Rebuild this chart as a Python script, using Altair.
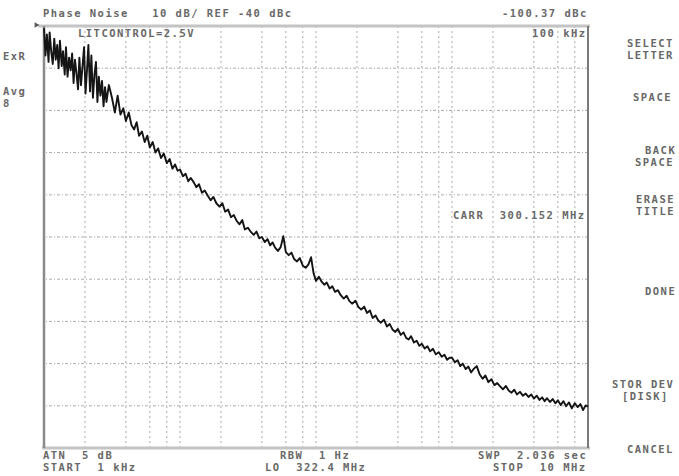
import altair as alt
import pandas as pd

# ---------------- data ----------------
DECADES_KHZ = [1, 10, 100, 1000]
MANTISSA = [1.0, 1.05, 1.1, 1.15, 1.2, 1.26, 1.32, 1.38, 1.45, 1.52, 1.6, 1.68, 1.76,
            1.85, 1.95, 2.05, 2.15, 2.26, 2.37, 2.49, 2.61, 2.74, 2.87, 3.0, 3.16, 3.32,
            3.48, 3.65, 3.83, 4.0, 4.2, 4.4, 4.6, 4.8, 5.0, 5.25, 5.5, 5.75, 6.0, 6.3,
            6.6, 6.9, 7.25, 7.6, 8.0, 8.4, 8.8, 9.2, 9.6]

# 1 kHz .. 3 kHz, denser sweep points (very noisy close-in region)
FREQ_LOW_KHZ = [1.0, 1.025, 1.05, 1.08, 1.1, 1.13, 1.16, 1.19, 1.22, 1.25, 1.28, 1.31,
                1.35, 1.38, 1.42, 1.45, 1.49, 1.53, 1.57, 1.61, 1.65, 1.69, 1.73, 1.78,
                1.82, 1.87, 1.92, 1.97, 2.02, 2.07, 2.12, 2.18, 2.23, 2.29, 2.35, 2.41,
                2.47, 2.53, 2.6, 2.67, 2.74, 2.81, 2.88, 2.95]
NOISE_LOW = [-40.5, -47, -42, -48.5, -41.5, -46, -49, -43, -48, -44.5, -50, -43.5,
             -49.5, -46, -51.5, -45, -52, -47.5, -50.5, -46.5, -53.5, -48, -51, -55,
             -47.5, -54, -49.5, -45, -56, -50.5, -44.5, -55.5, -47, -57, -51.5, -48.5,
             -58, -52, -56.5, -53, -59, -54.5, -58, -55.5]
# 3 kHz .. 10 kHz (MANTISSA from 3.0 on)
NOISE_3K = [-54, -57, -60.5, -56.5, -61, -59.5, -62.5, -60.5, -63.5, -64.5, -62.8, -66,
            -65, -67.5, -66, -68.8, -67.5, -70, -69, -71.3, -70.2, -72.5, -71.5, -73.8,
            -72.8, -74.3]
NOISE_10K = [-74, -75.6, -75, -76.8, -76, -77, -78.2, -77.5, -79.5, -79, -80.2, -81.3,
             -80.5, -82, -82.8, -82, -84, -83.5, -85.3, -84.8, -86.2, -87, -86, -88.2,
             -87.8, -88.8, -89.5, -88.7, -90.3, -90, -91.2, -90.5, -92, -91.3, -92.5,
             -93.3, -92.4, -89.8, -93.6, -94.3, -93.7, -95.2, -95.8, -95, -96.8, -97.3,
             -96.5, -94.8, -98.6]
NOISE_100K = [-100.4, -99.4, -100.6, -101.3, -100.8, -102.2, -101.7, -103, -102.6,
              -103.8, -104.6, -103.9, -105.2, -105.8, -105.1, -106.6, -107.2, -106.5,
              -108, -107.4, -109.2, -108.6, -109.8, -110.3, -109.6, -111.2, -110.6,
              -111.9, -112.5, -111.8, -113.2, -112.6, -113.9, -114.3, -113.5, -115,
              -114.6, -115.8, -115.3, -116.4, -115.9, -117.1, -116.5, -117.8, -117.3,
              -118.4, -117.9, -119.1, -118.6]
NOISE_1M = [-118.6, -119.7, -119.2, -120.6, -120, -121.3, -120.7, -122.1, -121.2,
            -120.6, -122.6, -123.6, -122.8, -124.4, -123.7, -125.1, -124.6, -125.4,
            -126.1, -125.3, -126.4, -126.9, -126.2, -127.3, -126.7, -127.6, -127.1,
            -127.9, -127.3, -128.3, -127.6, -128.6, -128, -128.9, -128.2, -129.1,
            -128.4, -129.4, -128.7, -129.8, -128.9, -130.1, -129.2, -130.6, -129.4,
            -130.3, -129.6, -131, -129.9]
STOP_KHZ = 10000
STOP_DBC = -130.2

GRID_F_KHZ = [2, 4, 6, 8, 10, 20, 40, 60, 80, 100, 200, 400, 600, 800, 1000,
              2000, 4000, 6000, 8000]
GRID_DBC = [-50, -60, -70, -80, -90, -100, -110, -120, -130]

# text labels
TOP_TITLE = "Phase Noise   10 dB/ REF -40 dBc"
MARKER_VAL = "-100.37 dBc"
MARKER_FREQ = "100 kHz"
TRACE_TITLE = "LITCONTROL=2.5V"
CARRIER = "CARR  300.152 MHz"
LEFT_LABELS = ["ExR", "Avg", "8"]
BOTTOM_LABELS = ["ATN  5 dB", "START  1 kHz", "RBW  1 Hz", "LO  322.4 MHz",
                 "SWP  2.036 sec", "STOP  10 MHz"]
SOFTKEYS = ["SELECT", "LETTER", "SPACE", "BACK", "SPACE", "ERASE", "TITLE", "DONE",
            "STOR DEV", "[DISK]", "CANCEL"]

# ---------------- build tables ----------------
freqs = list(FREQ_LOW_KHZ)
vals = list(NOISE_LOW)
for m, v in zip(MANTISSA[23:], NOISE_3K):
    freqs.append(m)
    vals.append(v)
for dec, series in zip(DECADES_KHZ[1:], [NOISE_10K, NOISE_100K, NOISE_1M]):
    for m, v in zip(MANTISSA, series):
        freqs.append(m * dec)
        vals.append(v)
freqs.append(STOP_KHZ)
vals.append(STOP_DBC)
trace = pd.DataFrame({"f": freqs, "dbc": vals, "i": range(len(freqs))})

W, H = 544, 422
L, T = 44, 26
CW = 7.8  # character pitch of the instrument font
xs = alt.Scale(type="log", domain=[1, 10000])
ys = alt.Scale(domain=[-140, -40])

# layout anchors (left x, centre y) for each text, in picture pixels
text_items = [
    (TOP_TITLE, 43, 14),
    (MARKER_VAL, 502, 14),
    (MARKER_FREQ, 532, 34),
    (TRACE_TITLE, 78, 34),
    (CARRIER, 453, 216),
    (LEFT_LABELS[0], 3, 57),
    (LEFT_LABELS[1], 3, 92),
    (LEFT_LABELS[2], 3, 104),
    (BOTTOM_LABELS[0], 43, 456),
    (BOTTOM_LABELS[1], 43, 468),
    (BOTTOM_LABELS[2], 280, 456),
    (BOTTOM_LABELS[3], 265, 468),
    (BOTTOM_LABELS[4], 478, 456),
    (BOTTOM_LABELS[5], 493, 468),
]
soft_pos = [(627, 44), (627, 56), (633, 98), (645, 151), (635, 163), (636, 200),
            (636, 212), (645, 292), (612, 385), (622, 397), (627, 450)]
text_items += [(s, px, py) for s, (px, py) in zip(SOFTKEYS, soft_pos)]

chars = []
for s, px, py in text_items:
    for k, ch in enumerate(s):
        if ch != " ":
            chars.append({"c": ch, "px": px + k * CW - L, "py": py - T})
chars = pd.DataFrame(chars)

vgrid = alt.Chart(pd.DataFrame({"f": GRID_F_KHZ})).mark_rule(
    color="#ababab", strokeDash=[2, 3], strokeWidth=1
).encode(x=alt.X("f:Q", scale=xs, axis=None))

hgrid = alt.Chart(pd.DataFrame({"d": GRID_DBC})).mark_rule(
    color="#ababab", strokeDash=[3, 2, 1, 2], strokeWidth=1
).encode(y=alt.Y("d:Q", scale=ys, axis=None))

line = alt.Chart(trace).mark_line(color="#151515", strokeWidth=1.9,
                                  strokeJoin="round").encode(
    x=alt.X("f:Q", scale=xs, axis=None),
    y=alt.Y("dbc:Q", scale=ys, axis=None),
    order="i:Q",
)


def border(x, y, x2, y2, color="#c4c4c4", w=3):
    return alt.Chart().mark_rule(color=color, strokeWidth=w).encode(
        x=alt.value(x), y=alt.value(y), x2=alt.value(x2), y2=alt.value(y2))


borders = [
    border(-6, 0, W + 2, 0),
    border(-2, H, W + 2, H),
    border(0, 0, 0, H, color="#8a8a8a", w=2.5),
    border(W, 0, W, H, color="#7a7a7a", w=2),
]

text_layer = alt.Chart(chars).mark_text(
    align="left", baseline="middle", font="DejaVu Sans Mono",
    fontSize=10.5, fontWeight="bold", color="#686868"
).encode(
    x=alt.X("px:Q", scale=None),
    y=alt.Y("py:Q", scale=None),
    text="c:N",
)

ref_marker = alt.Chart().mark_point(
    shape="triangle-right", filled=True, color="#111", size=30
).encode(x=alt.value(-7), y=alt.value(-1))

chart = alt.layer(vgrid, hgrid, *borders, line, ref_marker, text_layer).properties(
    width=W, height=H,
    autosize=alt.AutoSizeParams(type="none"),
    padding={"left": L, "top": T, "right": 679 - L - W, "bottom": 476 - T - H},
    background="white",
).configure_view(strokeWidth=0)

chart.save("out.html", embed_options={"renderer": "svg", "actions": False})
